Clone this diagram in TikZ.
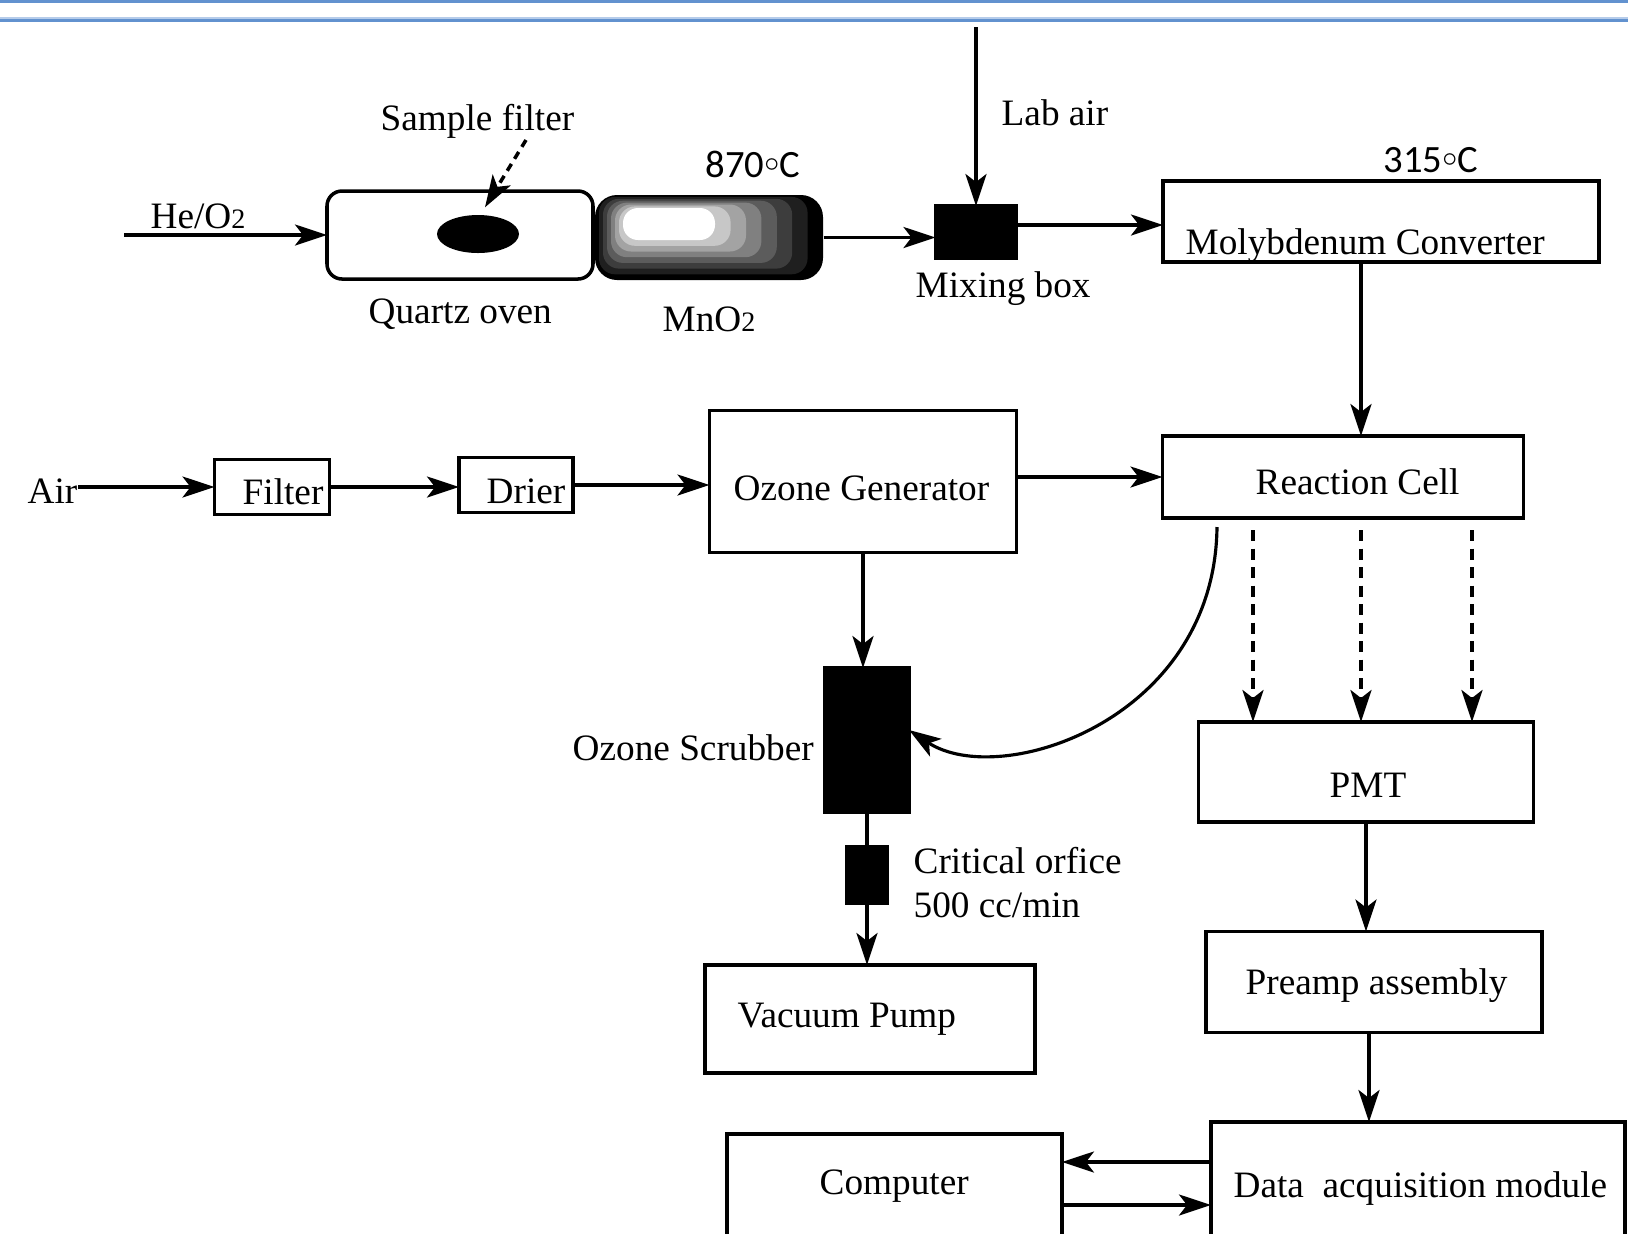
\documentclass[tikz,border=0pt]{standalone}
\usepackage{fontspec}
\setmainfont{Liberation Serif}
\newfontfamily\calfont{Carlito}
\usetikzlibrary{arrows.meta,shapes.geometric}

\definecolor{rule}{RGB}{98,146,207}
\definecolor{rulelight}{RGB}{182,204,234}
\newcommand{\degc}{\raisebox{0.3ex}{$\scriptstyle\circ$}C}

\begin{document}
\begin{tikzpicture}[x=0.1mm, y=-0.1mm, >={Stealth[length=3.2mm,width=2.1mm,inset=0.8mm]}]
    \tikzstyle{box}=[draw, line width=1pt, inner sep=0pt, outer sep=0pt]
    \tikzstyle{blk}=[box, fill=black]
    \tikzstyle{txt}=[inner sep=0pt, anchor=base west, font=\fontsize{10.6}{12}\selectfont]
    \tikzstyle{deg}=[inner sep=0pt, anchor=base west, font=\calfont\fontsize{11}{12}\selectfont]
    \tikzstyle{flow}=[->, line width=0.9pt]
    \tikzstyle{dflow}=[flow, line width=1pt, dash pattern=on 1.1mm off 0.75mm]

    \useasboundingbox (0,0) rectangle (1628,1233);
    \clip (0,0) rectangle (1628,1233);

    \draw[rule, line width=0.6pt] (0,1.5) -- (1628,1.5);
    \draw[rulelight, line width=0.5pt] (0,18) -- (1628,18);
    \draw[rule, line width=0.7pt] (0,20.5) -- (1628,20.5);

    % top row
    \node[box, rounded corners=1.5mm, minimum width=26.6mm, minimum height=8.8mm] (qo) at (460,235) {};
    \node[ellipse, fill=black, inner sep=0pt, minimum width=8.2mm, minimum height=3.8mm] (sf) at (478,234) {};
    \node[fill=black, rounded corners=2.2mm, inner sep=0pt, minimum width=22.8mm, minimum height=8.5mm] (mn) at (709,237.5) {};
    \foreach \t/\g in {1/88,2/76,3/64,4/50,5/36,6/22}
        \fill[black!\g, rounded corners=1.6mm] ({595+4*\t},{195+1.9*\t}) rectangle ({823-15.4*\t},{280-5.7*\t});
    \fill[white, rounded corners=1.5mm] (623,208) rectangle (715,240);
    \node[blk, minimum width=8.1mm, minimum height=5.2mm] (mb) at (976,232) {};
    \node[box, minimum width=43.6mm, minimum height=8.1mm] (mc) at (1381,221.5) {};

    \node[txt] (t-sf)  at (380,130) {Sample filter};
    \node[txt] (t-he)  at (150,228) {He/O{\fontsize{8}{8}\selectfont 2}};
    \node[txt] (t-qo)  at (368,323) {Quartz oven};
    \node[txt] (t-mn)  at (662,331) {MnO{\fontsize{8}{8}\selectfont 2}};
    \node[deg] (t-870) at (705,177) {870\degc};
    \node[txt] (t-lab) at (1001,125) {Lab air};
    \node[txt] (t-mb)  at (915,297) {Mixing box};
    \node[txt] (t-mc)  at (1185,254) {Molybdenum Converter};
    \node[deg] (t-315) at (1383,172) {315\degc};

    % middle row
    \node[box, minimum width=11.5mm, minimum height=5.5mm] (fl) at (272,487) {};
    \node[box, minimum width=11.4mm, minimum height=5.5mm] (dr) at (516,485) {};
    \node[box, minimum width=30.7mm, minimum height=14.2mm] (og) at (863,481.5) {};
    \node[box, minimum width=36.1mm, minimum height=8.2mm] (rc) at (1343,477) {};
    \node[box, minimum width=33.5mm, minimum height=10mm] (pmt) at (1366,772) {};
    \node[blk, minimum width=8.4mm, minimum height=14.4mm] (os) at (867,740) {};
    \node[blk, minimum width=4mm, minimum height=5.6mm] (co) at (867,875) {};

    \node[txt] (t-air) at (27,503) {Air};
    \node[txt] (t-fl)  at (242,504) {Filter};
    \node[txt] (t-dr)  at (486,503) {Drier};
    \node[txt] (t-og)  at (733,500) {Ozone Generator};
    \node[txt] (t-rc)  at (1255,494) {Reaction Cell};
    \node[txt] (t-pmt) at (1329,797) {PMT};
    \node[txt] (t-os)  at (572,760) {Ozone Scrubber};
    \node[txt] (t-co1) at (913,873) {Critical orfice};
    \node[txt] (t-co2) at (913,917) {500 cc/min};

    % bottom row
    \node[box, minimum width=33mm, minimum height=10.8mm] (vp) at (870,1019) {};
    \node[box, minimum width=33.6mm, minimum height=10.1mm] (pa) at (1374,982) {};
    \node[box, minimum width=41.4mm, minimum height=17.8mm] (daq) at (1418,1211) {};
    \node[box, minimum width=33.5mm, minimum height=16.6mm] (pc) at (894.5,1217) {};

    \node[txt] (t-vp)  at (737,1027) {Vacuum Pump};
    \node[txt] (t-pa)  at (1245,994) {Preamp assembly};
    \node[txt] (t-pc)  at (819,1194) {Computer};
    \node[txt] (t-daq) at (1233,1197) {Data\ \ acquisition module};

    % connectors
    \coordinate (he) at (124,235);
    \coordinate (sfa) at (526,140);
    \coordinate (lab) at (976,27);
    \coordinate (rco) at (1217,527);

    \draw[flow] (he) -- (qo.west);
    \draw[dflow, dash pattern=on 0.8mm off 0.6mm] (sfa) -- ([shift={(7,-7)}]sf.north);
    \draw[flow] (mn.east) -- (mn.east -| mb.west);
    \draw[flow] (lab) -- (mb.north);
    \draw[flow] ([yshift=0.7mm]mb.east) -- ([yshift=0.7mm]mb.east -| mc.west);
    \draw[flow] ([xshift=-2mm]mc.south) -- ([xshift=-2mm]mc.south |- rc.north);

    \draw[flow] (t-air.east |- fl.west) -- (fl.west);
    \draw[flow] (fl.east) -- (fl.east -| dr.west);
    \draw[flow] (dr.east) -- (dr.east -| og.west);
    \draw[flow] (og.east |- rc.west) -- (rc.west);
    \draw[flow] (og.south) -- (og.south |- os.north);
    \draw[line width=0.9pt] (os.south) -- (co.north);
    \draw[flow] (co.south) -- (co.south |- vp.north);
    \draw[flow] (rco) .. controls (1215,720) and (1000,790) .. ([yshift=1mm]os.east);

    \foreach \dx [count=\i] in {-90,18,129} {
        \coordinate (ray\i) at ([shift={(\dx,12)}]rc.south);
        \draw[dflow] (ray\i) -- (ray\i |- pmt.north);
    }
    \draw[flow] (pmt.south) -- (pmt.south |- pa.north);
    \draw[flow] ([xshift=-0.5mm]pa.south) -- ([xshift=-0.5mm]pa.south |- daq.north);
    \draw[flow] ([yshift=-4mm]daq.north west) -- ([yshift=-4mm]daq.north west -| pc.east);
    \draw[flow] ([yshift=-8.3mm]daq.north west -| pc.east) -- ([yshift=-8.3mm]daq.north west);
\end{tikzpicture}
\end{document}
